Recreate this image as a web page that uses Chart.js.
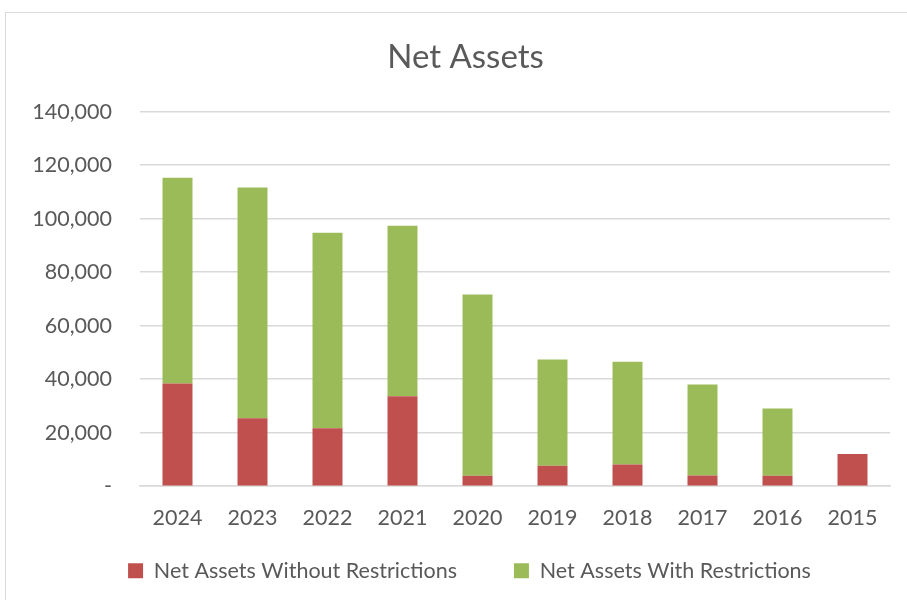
<!DOCTYPE html>
<html>
<head>
<meta charset="utf-8">
<script src="https://cdn.jsdelivr.net/npm/chart.js@4"></script>
<style>
html,body{margin:0;padding:0;background:#fff;}
#wrap{width:907px;height:600px;position:relative;}
</style>
</head>
<body>
<div id="wrap"><canvas id="c" width="907" height="600"></canvas></div>
<script>
const years=['2024','2023','2022','2021','2020','2019','2018','2017','2016','2015'];
const withoutRestr=[38370,25380,21630,33630,3870,7620,8130,4000,3870,12000];
const withRestr=[76870,86260,73130,63750,67760,39750,38370,34000,25130,0];
const yTicks=[0,20000,40000,60000,80000,100000,120000,140000];

const FONT='Lato, "Open Sans", sans-serif';
const GREY='#595959';

// outer frame like the Excel chart area
const frame={
  id:'frame',
  beforeDraw(c){
    const x=c.ctx;
    x.save();
    x.fillStyle='#fff';x.fillRect(0,0,c.width,c.height);
    x.strokeStyle='#d9d9d9';x.lineWidth=1;
    x.strokeRect(5.5,12.5,c.width,c.height);
    x.restore();
  }
};

// nudge title + legend to where Excel puts them
const nudge={
  id:'nudge',
  afterLayout(c){
    const t=c.titleBlock;
    if(t){t.left+=18;t.right+=18;}
    const l=c.legend;
    if(l){l.left+=22;l.right+=22;l.top=503;}
  }
};

new Chart(document.getElementById('c'),{
  type:'bar',
  data:{
    labels:years,
    datasets:[
      {label:'Net Assets Without Restrictions',data:withoutRestr,backgroundColor:'#c0504d',barPercentage:0.4,categoryPercentage:1},
      {label:'Net Assets With Restrictions',data:withRestr,backgroundColor:'#9bbb59',barPercentage:0.4,categoryPercentage:1}
    ]
  },
  options:{
    responsive:false,
    animation:false,
    layout:{padding:{left:5,right:17,top:38,bottom:-4}},
    plugins:{
      title:{display:true,text:'Net Assets',color:GREY,font:{family:FONT,size:33,weight:'normal'},padding:{top:0,bottom:34}},
      legend:{
        position:'bottom',
        maxHeight:62,
        labels:{color:GREY,font:{family:FONT,size:21.5},boxWidth:15,boxHeight:15,padding:57}
      },
      tooltip:{enabled:false}
    },
    scales:{
      x:{
        stacked:true,
        grid:{display:false},
        border:{color:'#d9d9d9',width:1.5},
        ticks:{color:GREY,font:{family:FONT,size:21.5},padding:11}
      },
      y:{
        stacked:true,
        min:0,max:140000,
        afterFit(a){a.width=135;},
        afterBuildTicks(a){a.ticks=yTicks.map(v=>({value:v}));},
        grid:{color:'#d9d9d9',lineWidth:1.5,drawTicks:false},
        border:{display:false},
        ticks:{
          color:GREY,font:{family:FONT,size:21.5},padding:28,
          callback:v=>v===0?'-':v.toLocaleString('en-US')
        }
      }
    }
  },
  plugins:[frame,nudge]
});
</script>
</body>
</html>
